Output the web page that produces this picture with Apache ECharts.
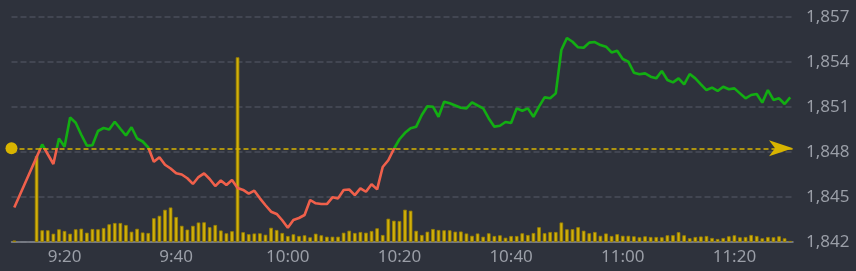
<!DOCTYPE html>
<html>
<head>
<meta charset="utf-8">
<script src="https://cdn.jsdelivr.net/npm/echarts@6/dist/echarts.min.js"></script>
<style>
    html, body { margin: 0; padding: 0; background: #2e323c; }
    #min_chart { width: 856px; height: 271px; }
</style>
</head>
<body>
<div id="min_chart"></div>
<script>
// 分时价格（每分钟），9:12-9:15 无成交价
var price = [
    1844.3, null, null, null, null, 1848.5, 1847.85, 1847.2, 1848.9, 1848.35,
    1850.3, 1849.95, 1849.15, 1848.42, 1848.45, 1849.4, 1849.6, 1849.5, 1850.02, 1849.55,
    1849.1, 1849.65, 1848.9, 1848.7, 1848.3, 1847.35, 1847.65, 1847.15, 1846.9, 1846.58,
    1846.5, 1846.25, 1845.87, 1846.33, 1846.58, 1846.2, 1845.73, 1846.1, 1845.8, 1846.13,
    1845.6, 1845.47, 1845.22, 1845.42, 1844.91, 1844.45, 1844.02, 1843.87, 1843.45, 1842.95,
    1843.47, 1843.6, 1843.8, 1844.8, 1844.58, 1844.53, 1844.53, 1844.98, 1844.91, 1845.47,
    1845.5, 1845.13, 1845.58, 1845.35, 1845.85, 1845.51, 1847.0, 1847.45, 1848.2, 1848.85,
    1849.28, 1849.58, 1849.69, 1850.47, 1851.05, 1851.02, 1850.35, 1851.35, 1851.25, 1851.1,
    1850.95, 1850.91, 1851.31, 1851.1, 1850.91, 1850.24, 1849.69, 1849.75, 1850.0, 1849.93,
    1850.91, 1850.75, 1850.91, 1850.35, 1851.02, 1851.64, 1851.58, 1851.91, 1854.8, 1855.6,
    1855.35, 1854.98, 1854.95, 1855.29, 1855.33, 1855.13, 1855.02, 1854.64, 1854.75, 1854.2,
    1854.02, 1853.29, 1853.18, 1853.24, 1853.02, 1852.91, 1853.4, 1852.8, 1852.64, 1852.91,
    1852.51, 1853.2, 1852.91, 1852.51, 1852.13, 1852.29, 1852.07, 1852.35, 1852.18, 1852.24,
    1851.91, 1851.58, 1851.8, 1851.87, 1851.29, 1852.13, 1851.47, 1851.58, 1851.2, 1851.64
];

// 成交量（相对值）
var volume = [
    1.5, null, null, null, 86, 11.7, 11.7, 8.3, 12.7, 11,
    8.3, 12.7, 13.3, 9.3, 13, 12.7, 14, 17.7, 19, 19,
    17, 10.3, 13.2, 9.5, 9, 23.8, 26.2, 32.2, 34.5, 25,
    16.2, 12.4, 16.2, 19.5, 19.7, 14.8, 17, 11.5, 8.7, 10.8,
    184.7, 9.8, 7.8, 8.5, 8.7, 7.3, 14.2, 12, 9, 6,
    7.7, 6, 6.7, 4.7, 8.3, 6.7, 5.3, 5.3, 5.3, 9.3,
    11.3, 9, 10, 9.3, 11, 13.7, 7, 23.3, 21.3, 21,
    32.3, 31.3, 11.2, 7, 10.3, 13, 12, 11.7, 11.7, 10.3,
    10.5, 8.5, 6.2, 8.5, 5.3, 8.7, 6, 6.7, 4.3, 6,
    6, 8.7, 7, 9, 14.8, 8.8, 10, 10, 19.5, 12.7,
    12.8, 14.8, 11.3, 8.8, 10, 6.2, 8.5, 6, 7.8, 6.2,
    6.2, 5.7, 4.7, 5.7, 5, 5, 4.7, 6.7, 6.8, 9.8,
    6.7, 3.8, 5, 5.5, 6, 4, 3, 4, 5.7, 6.7,
    4.7, 5, 7, 6, 3.7, 5, 4.7, 5.7, 3.7, 1
];

var prevClose = 1848.25;
var yTicks = [1842, 1845, 1848, 1851, 1854, 1857];

// 时间轴 9:11 - 11:30
var times = [];
for (var i = 0; i < price.length; i++) {
    var m = 11 + i;
    var h = 9 + Math.floor(m / 60);
    var mm = m % 60;
    times.push(h + ':' + (mm < 10 ? '0' + mm : mm));
}

function showTime(idx, val) {
    return Number(val.split(':')[1]) % 20 === 0;
}

var myChart = echarts.init(document.getElementById('min_chart'));

var option = {
    backgroundColor: '#2e323c',
    animation: false,
    textStyle: { fontFamily: 'Noto Sans' },
    grid: {
        left: 11.5,
        right: 63,
        top: 17,
        bottom: 29
    },
    visualMap: {
        show: false,
        type: 'piecewise',
        seriesIndex: 0,
        dimension: 1,
        pieces: [
            { gte: 1800, lte: prevClose, color: '#f0604b' },
            { gt: prevClose, lte: 1900, color: '#12ae12' }
        ],
        outOfRange: { color: '#12ae12' }
    },
    xAxis: {
        type: 'category',
        data: times,
        boundaryGap: true,
        axisLine: { lineStyle: { color: '#868a93', width: 1.5 } },
        axisTick: {
            interval: showTime,
            alignWithLabel: true,
            length: 5,
            lineStyle: { color: '#868a93' }
        },
        axisLabel: {
            interval: showTime,
            color: '#9a9ea7',
            fontSize: 17,
            margin: 7
        },
        splitLine: { show: false }
    },
    yAxis: [{
        type: 'value',
        position: 'right',
        min: yTicks[0],
        max: yTicks[yTicks.length - 1],
        interval: 3,
        axisLine: { show: false },
        axisTick: { show: false },
        axisLabel: {
            color: '#9a9ea7',
            fontSize: 17,
            margin: 13,
            formatter: function (v) {
                var s = String(v);
                return s.slice(0, 1) + ',' + s.slice(1);
            }
        },
        splitLine: {
            lineStyle: { color: '#4a4e59', type: [6, 3], width: 1.5 }
        }
    }, {
        type: 'value',
        show: false,
        min: 0,
        max: 225
    }],
    series: [{
        name: '价格',
        type: 'line',
        data: price,
        connectNulls: true,
        showSymbol: false,
        lineStyle: { width: 2.6 },
        markLine: {
            silent: true,
            symbol: ['circle', 'arrow'],
            symbolSize: [12, 24],
            label: { show: false },
            lineStyle: { color: '#d8b400', type: [5, 3], width: 1.5 },
            itemStyle: { color: '#d8b400' },
            data: [{ yAxis: prevClose }]
        }
    }, {
        name: '成交量',
        type: 'bar',
        yAxisIndex: 1,
        data: volume,
        barWidth: '64%',
        itemStyle: {
            color: '#d2b00a',
            borderColor: '#9a8200',
            borderWidth: 0.8
        }
    }]
};

myChart.setOption(option);
</script>
</body>
</html>
